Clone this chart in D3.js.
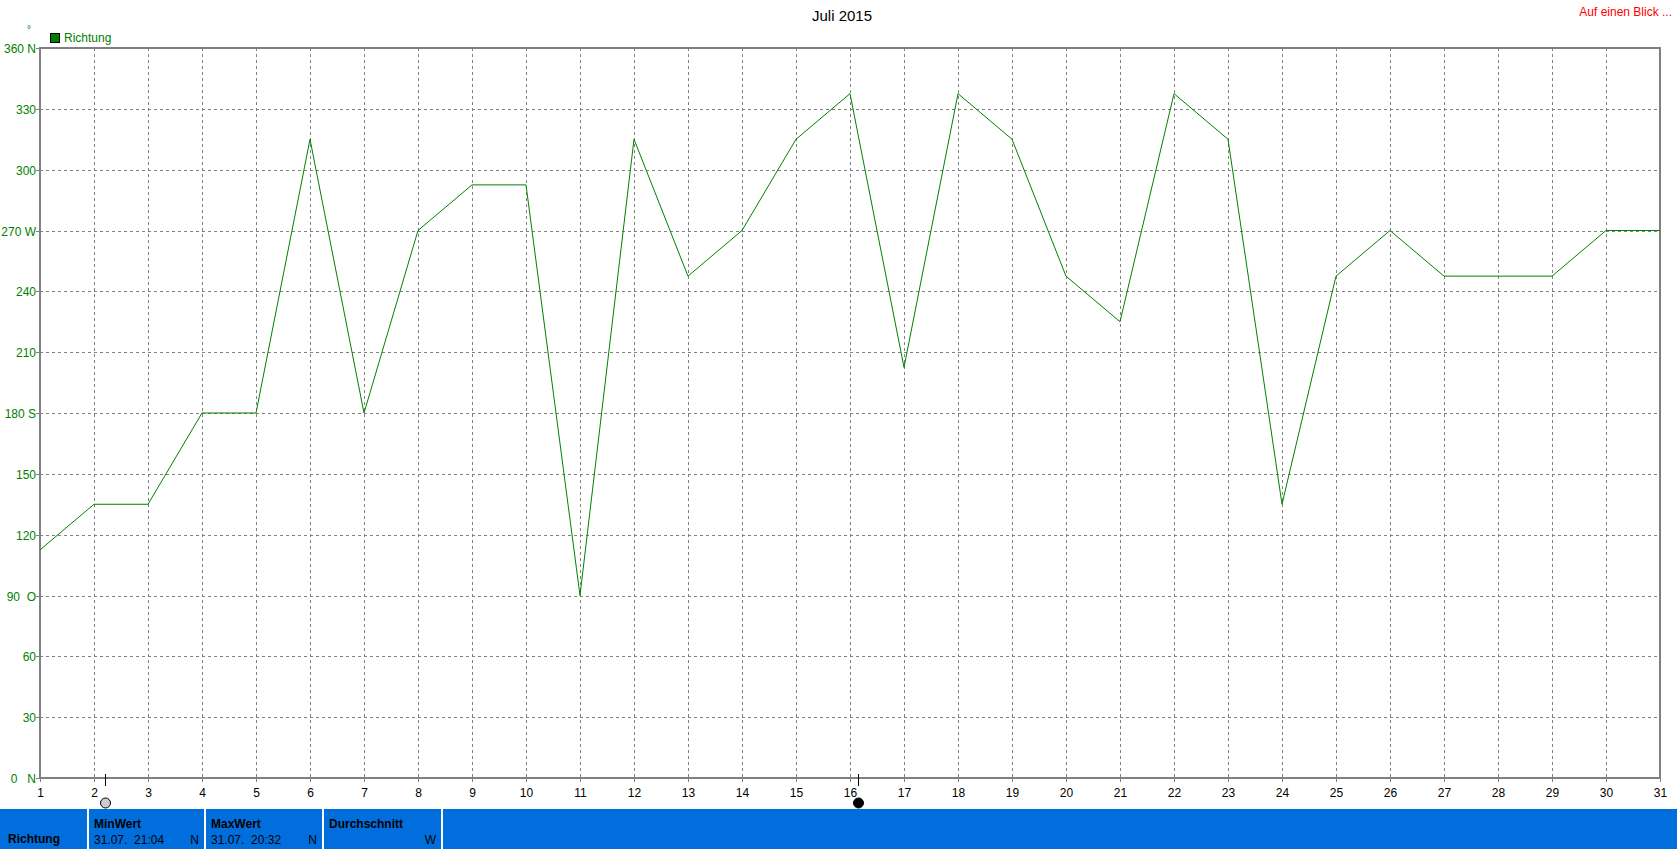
<!DOCTYPE html>
<html><head><meta charset="utf-8">
<script src="https://cdn.jsdelivr.net/npm/d3@7"></script>
<style>
body{margin:0;background:#fff;}
svg{display:block;font-family:"Liberation Sans",Arial,sans-serif;}
</style></head>
<body><svg id="c" width="1677" height="849"></svg>
<script>
const days = d3.range(1, 32);
const richtung = [112.5,135,135,180,180,315,180,270,292.5,292.5,90,315,247.5,270,315,337.5,202.5,337.5,315,247.5,225,337.5,315,135,247.5,270,247.5,247.5,247.5,270,270];
const yTicks = [0,30,60,90,120,150,180,210,240,270,300,330,360];
const yTickLabels = ["0   N","30","60","90  O","120","150","180 S","210","240","270 W","300","330","360 N"];
const moonDays = [2.2, 16.15];
const moonFilled = [false, true];
const panelHeaders = ["MinWert","MaxWert","Durchschnitt"];
const panelDates = ["31.07.  21:04","31.07.  20:32",""];
const panelValues = ["N","N","W"];

const svg = d3.select("#c");
const L=40, R=1660, T=48, B=778;
const x = d3.scaleLinear().domain([1,31]).range([L,R]);
const y = d3.scaleLinear().domain([0,360]).range([B,T]);
const green="#008000", gray="#808080";

// grid
svg.append("g").selectAll("line").data(days.slice(1,-1)).join("line")
  .attr("x1",d=>x(d)+0.5).attr("x2",d=>x(d)+0.5).attr("y1",T).attr("y2",B)
  .attr("stroke",gray).attr("stroke-dasharray","3,3");
svg.append("g").selectAll("line").data(yTicks.slice(1,-1)).join("line")
  .attr("y1",d=>Math.round(y(d))+0.5).attr("y2",d=>Math.round(y(d))+0.5).attr("x1",L).attr("x2",R)
  .attr("stroke",gray).attr("stroke-dasharray","3,3");

// frame
svg.append("rect").attr("x",L).attr("y",T).attr("width",R-L).attr("height",B-T)
  .attr("fill","none").attr("stroke",gray).attr("stroke-width",2);

// y ticks
const yAxis = svg.append("g");
yTicks.forEach((t,i)=>{
  const yy=Math.round(y(t))+0.5;
  yAxis.append("line").attr("x1",L-4).attr("x2",L).attr("y1",yy).attr("y2",yy).attr("stroke",gray);
  yAxis.append("text").attr("x",L-4).attr("y",yy+4).attr("text-anchor","end")
    .attr("fill",green).attr("font-size",12).style("white-space","pre").text(yTickLabels[i]);
});
// x ticks
const xAxis = svg.append("g");
days.forEach(d=>{
  const xx=Math.round(x(d))+0.5;
  xAxis.append("line").attr("x1",xx).attr("x2",xx).attr("y1",B).attr("y2",B+4).attr("stroke",gray);
  xAxis.append("text").attr("x",xx).attr("y",B+19).attr("text-anchor","middle")
    .attr("fill","#000").attr("font-size",12).text(d);
});

// moon markers
moonDays.forEach((d,i)=>{
  const xx=Math.round(x(d))+0.5;
  svg.append("line").attr("x1",xx).attr("x2",xx).attr("y1",B-4).attr("y2",B+8).attr("stroke","#000");
  svg.append("circle").attr("cx",xx).attr("cy",B+25).attr("r",5)
    .attr("fill",moonFilled[i]?"#000":"#ccc").attr("stroke","#000").attr("stroke-width",1);
});

// data line
svg.append("path").datum(richtung)
  .attr("d", d3.line().x((v,i)=>x(days[i])).y(v=>y(v)))
  .attr("fill","none").attr("stroke",green).attr("stroke-width",1);

// title etc.
svg.append("text").attr("x",842).attr("y",21).attr("text-anchor","middle").attr("font-size",15).text("Juli 2015");
svg.append("text").attr("x",1672).attr("y",16).attr("text-anchor","end").attr("font-size",12).attr("fill","#ff0000").text("Auf einen Blick ...");
svg.append("text").attr("x",27).attr("y",33).attr("font-size",10).attr("fill",green).text("°");
svg.append("rect").attr("x",50.5).attr("y",33.5).attr("width",9).attr("height",9).attr("fill",green).attr("stroke","#000");
svg.append("text").attr("x",64).attr("y",42).attr("font-size",12).attr("fill",green).text("Richtung");

// bottom panel
const PT=809;
svg.append("rect").attr("x",0).attr("y",PT).attr("width",1677).attr("height",849-PT).attr("fill","#006fdd");
const seps=[87,204,322,441];
seps.forEach(s=>svg.append("rect").attr("x",s).attr("y",PT).attr("width",2).attr("height",849-PT).attr("fill","#fff"));
svg.append("text").attr("x",8).attr("y",843).attr("font-size",12).attr("font-weight","bold").text("Richtung");
panelHeaders.forEach((h,i)=>{
  const x0=seps[i]+7, x1=seps[i+1]-5;
  svg.append("text").attr("x",x0).attr("y",828).attr("font-size",12).attr("font-weight","bold").text(h);
  svg.append("text").attr("x",x0).attr("y",844).attr("font-size",12).style("white-space","pre").text(panelDates[i]);
  svg.append("text").attr("x",x1).attr("y",844).attr("text-anchor","end").attr("font-size",12).text(panelValues[i]);
});
</script></body></html>
